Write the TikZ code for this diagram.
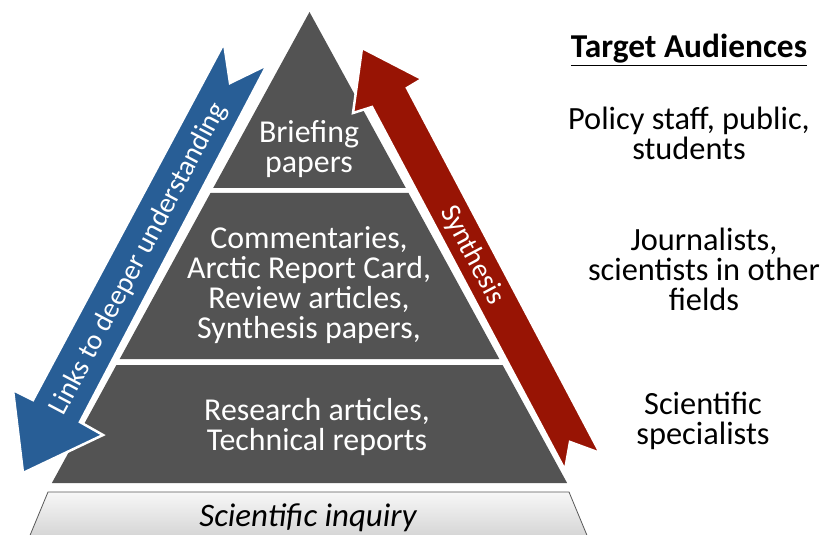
\documentclass[tikz,border=0pt]{standalone}
\usepackage{fontspec}
\setmainfont{Carlito}
\usepackage{xcolor}
\definecolor{tiergray}{RGB}{83,83,83}
\definecolor{linkblue}{RGB}{40,94,150}
\definecolor{synred}{RGB}{152,20,4}
\tikzset{
  tier/.style={fill=tiergray},
  band/.style={draw=white, line width=2.5bp, line join=miter},
  tiertext/.style={text=white, align=center, font=\fontsize{32}{30}\selectfont},
  bandtext/.style={text=white, font=\fontsize{28.5}{30}\selectfont},
  audtext/.style={text=black, align=center, font=\fontsize{32.5}{30}\selectfont},
}

\begin{document}
\begin{tikzpicture}[x=1bp, y=-1bp]
	\useasboundingbox (0,0) rectangle (836,535);
	% the three tiers
	\fill[tier] (309.5,12) -- (405.8,188) -- (213.2,188) -- cycle;
	\fill[tier] (210.5,193) -- (408.5,193) -- (499.3,359) -- (119.7,359) -- cycle;
	\fill[tier] (116.4,365) -- (502.6,365) -- (567.1,483) -- (51.9,483) -- cycle;
	% base
	\draw[draw=gray!70!black, top color=gray!6, bottom color=gray!38, line width=0.8bp]
		(48,492) -- (569,492) -- (591,545) -- (26,545) -- cycle;
	% arrows
	\filldraw[band, fill=linkblue] (224,43) -- (230,83) -- (267,65) -- (80,422) -- (103,435)
		-- (23,473) -- (13,390) -- (33,400) -- cycle;
	\filldraw[band, fill=synred] (362,48) -- (422,79) -- (407,88) -- (600,453) -- (570,442)
		-- (565,470) -- (372,107) -- (353,113) -- cycle;
	\node[bandtext, rotate=62.1] (links) at (139,259) {Links to deeper understanding};
	\node[bandtext, rotate=-62.1] (synth) at (472,255) {Synthesis};
	% tier labels
	\node[tiertext] (brief) at (309,149) {Briefing\\papers};
	\node[tiertext] (comment) at (309,285) {Commentaries,\\Arctic Report Card,\\Review articles,\\Synthesis papers,};
	\node[tiertext] (research) at (317,427) {Research articles,\\Technical reports};
	\node[audtext, font=\fontsize{33}{30}\selectfont\itshape] (inquiry) at (308,518) {Scientific inquiry};
	% audiences
	\node[audtext, font=\fontsize{33.5}{30}\selectfont\bfseries] (target) at (689,50) {\underline{Target Audiences}};
	\node[audtext] (policy) at (689,133) {Policy staff, public,\\students};
	\node[audtext] (journal) at (704,269) {Journalists,\\scientists in other\\fields};
	\node[audtext] (special) at (703,421) {Scientific\\specialists};
\end{tikzpicture}
\end{document}
